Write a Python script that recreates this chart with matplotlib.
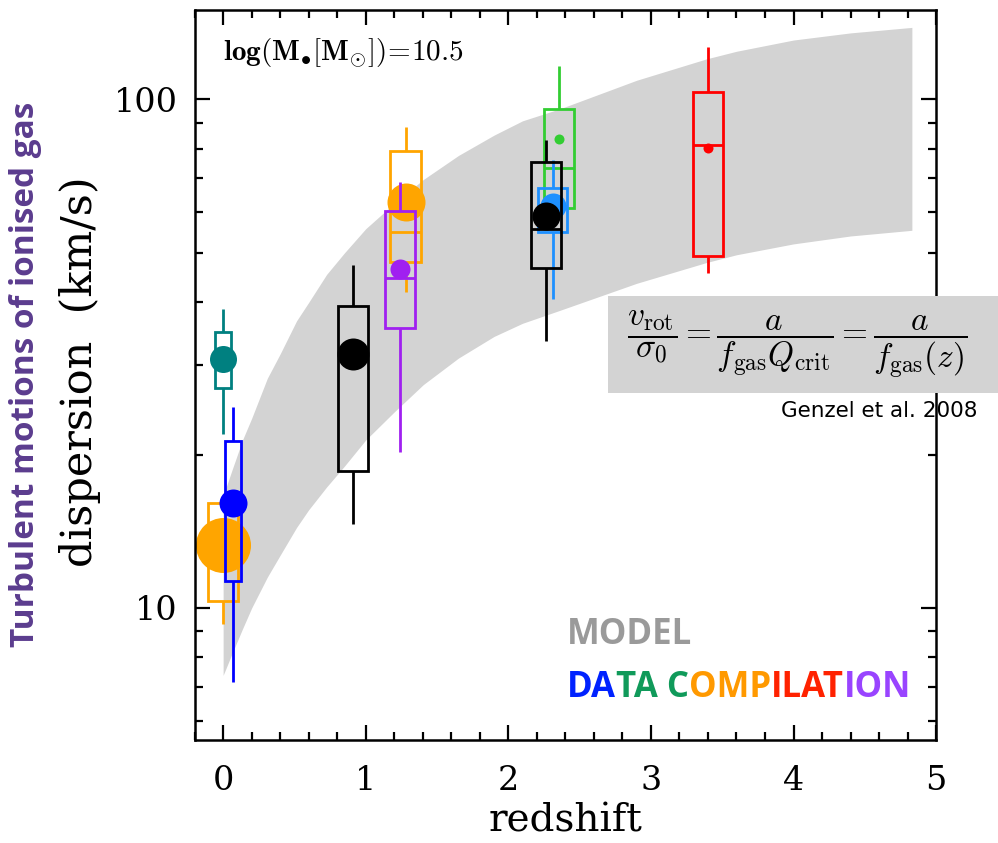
import numpy as np
import matplotlib.pyplot as plt
from matplotlib.patches import Rectangle
from matplotlib.ticker import FixedLocator, FixedFormatter, NullFormatter, MultipleLocator

plt.rcParams['mathtext.fontset'] = 'cm'

# model band: lower and upper edge of sigma(z)
band_z    = [0.0, 0.06, 0.136, 0.2, 0.31, 0.4, 0.515, 0.6, 0.726, 0.85, 1.0, 1.2,
             1.404, 1.65, 1.9, 2.1, 2.363, 2.9, 3.39, 3.6, 4.0, 4.4, 4.83]
band_hi_v = [16.6, 18.6, 21.4, 23.6, 28.3, 31.6, 36.7, 39.9, 45.3, 49.9, 55.7, 62.5,
             69.6, 77.6, 85.1, 90.8, 95.9, 109.1, 120.2, 124.4, 130.9, 135.2, 138.6]
band_lo_v = [7.37, 8.1, 9.1, 10.0, 11.5, 12.7, 14.4, 15.6, 17.3, 19.0, 21.4, 24.3,
             27.5, 31.0, 34.2, 36.3, 38.5, 43.5, 47.8, 49.5, 52.0, 53.9, 55.3]

# data compilation, one box per survey
colors  = ['#ffa500', '#008080', '#0000ff', 'black', '#ffa500', '#a020f0', '#32cd32', '#1e90ff', 'black', '#ff0000']
z_pos   = [0.0, 0.0, 0.07, 0.91, 1.28, 1.24, 2.355, 2.31, 2.265, 3.40]
box_w   = [0.21, 0.11, 0.115, 0.205, 0.215, 0.21, 0.215, 0.20, 0.205, 0.21]
whis_lo = [9.3, 22.0, 7.15, 14.6, 41.9, 20.3, 61.2, 40.6, 33.5, 45.6]
box_lo  = [10.3, 27.1, 11.3, 18.6, 48.0, 35.5, 61.2, 54.9, 46.7, 49.3]
median  = [13.3, 30.9, 16.1, 31.6, 55.0, 44.6, 73.3, 61.6, 55.6, 81.3]
box_hi  = [16.1, 34.9, 21.3, 39.3, 79.1, 60.3, 95.8, 67.1, 75.3, 103.4]
whis_hi = [16.1, 38.7, 24.8, 47.3, 88.2, 68.8, 116.3, 75.9, 83.2, 127.0]
point   = [13.3, 30.9, 16.1, 31.6, 62.9, 46.4, 83.6, 61.6, 58.9, 80.3]
dot_px  = [55, 27, 28, 32, 38, 20, 10, 26, 28, 10]

fig = plt.figure(figsize=(9.98, 8.43), dpi=100)
ax = fig.add_axes([0.195, 0.1222, 0.743, 0.866])

ax.fill_between(band_z, band_lo_v, band_hi_v, color='#d3d3d3', lw=0, zorder=1)

lw = 2.0
for i in range(len(z_pos)):
    c = colors[i]
    z = z_pos[i]
    w = box_w[i]
    ax.add_patch(Rectangle((z - w/2, box_lo[i]), w, box_hi[i] - box_lo[i],
                           fill=False, ec=c, lw=lw, zorder=2+i))
    ax.vlines(z, box_hi[i], whis_hi[i], color=c, lw=lw, zorder=2+i)
    ax.vlines(z, whis_lo[i], box_lo[i], color=c, lw=lw, zorder=2+i)
    ax.hlines(median[i], z - w/2, z + w/2, color=c, lw=lw, zorder=2+i)
    ax.plot(z, point[i], 'o', ms=dot_px[i]*0.72, color=c, mec='none', zorder=2+i)

ax.set_yscale('log')
ax.set_xlim(-0.2, 5.0)
ax.set_ylim(5.5, 150)

ax.xaxis.set_major_locator(MultipleLocator(1))
ax.xaxis.set_minor_locator(MultipleLocator(0.2))
ax.yaxis.set_major_locator(FixedLocator([10, 100]))
ax.yaxis.set_major_formatter(FixedFormatter(['10', '100']))
ax.yaxis.set_minor_locator(FixedLocator([6, 7, 8, 9, 20, 30, 40, 50, 60, 70, 80, 90]))
ax.yaxis.set_minor_formatter(NullFormatter())

ax.tick_params(which='both', direction='in', top=True, right=True, width=1.6, color='black')
ax.tick_params(which='major', length=10.5)
ax.tick_params(which='minor', length=5.5)
ax.tick_params(axis='x', which='major', pad=18)
ax.tick_params(axis='y', which='major', pad=12)
for lab in ax.get_xticklabels() + ax.get_yticklabels():
    lab.set_family('DejaVu Serif')
    lab.set_fontsize(24)
for sp in ax.spines.values():
    sp.set_linewidth(1.8)

ax.set_xlabel('redshift', family='DejaVu Serif', fontsize=28, labelpad=4)
fig.text(0.080, 0.559, 'dispersion  (km/s)', rotation=90, ha='center', va='center',
         family='DejaVu Serif', fontsize=31)
fig.text(0.026, 0.556, 'Turbulent motions of ionised gas', rotation=90,
         ha='center', va='center', family='Open Sans', weight='bold',
         fontsize=24, color='#5b3c8e')

ax.text(0.038, 0.942, r'$\mathbf{log(M_{\bullet}[M_{\odot}])\!=\!10.5}$',
        transform=ax.transAxes, fontsize=21, ha='left', va='center')

ax.text(0.502, 0.144, 'MODEL', transform=ax.transAxes, family='Open Sans',
        weight='bold', fontsize=25, color='#9a9a9a', ha='left', va='center')

# coloured title letters, each chunk placed after the previous one
chunks = [('DA', '#0022ff'), ('TA C', '#109a5a'), ('OMP', '#ff9900'),
          ('ILAT', '#ff2200'), ('ION', '#9944ff')]
prev = ax.text(0.502, 0.071, chunks[0][0], transform=ax.transAxes,
               family='Open Sans', weight='bold', fontsize=25,
               color=chunks[0][1], ha='left', va='center')
for txt, col in chunks[1:]:
    prev = ax.annotate(txt, xy=(1, 0), xycoords=prev, ha='left', va='bottom',
                       family='Open Sans', weight='bold', fontsize=25, color=col)

# equation panel sitting over the right spine
fig.add_artist(Rectangle((0.609, 0.5338), 0.40, 0.1151, transform=fig.transFigure,
                         color='#d3d3d3', lw=0, zorder=5))
fig.text(0.799, 0.591,
         r'$\dfrac{v_{\rm rot}}{\sigma_0} = \dfrac{a}{f_{\rm gas}Q_{\rm crit}} = \dfrac{a}{f_{\rm gas}(z)}$',
         ha='center', va='center', fontsize=24, zorder=6)
fig.text(0.783, 0.512, 'Genzel et al. 2008', ha='left', va='center',
         family='DejaVu Sans', fontsize=15.5, zorder=6)

fig.savefig('out.png', dpi=100)
